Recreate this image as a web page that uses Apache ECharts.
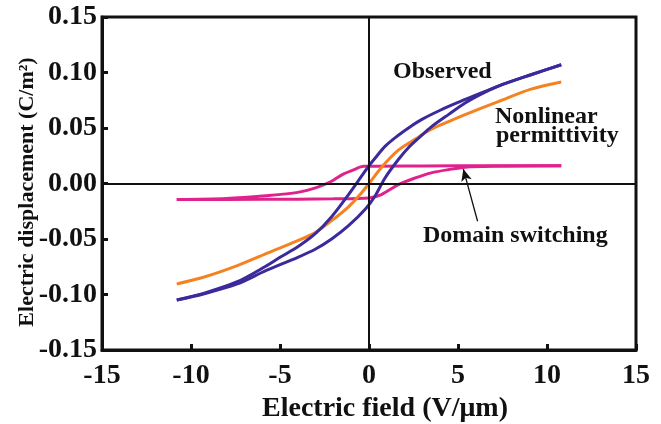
<!DOCTYPE html>
<html>
<head>
<meta charset="utf-8">
<script src="https://cdn.jsdelivr.net/npm/echarts@6/dist/echarts.min.js"></script>
<style>
html,body{margin:0;padding:0;background:#fff;}
#c{width:661px;height:424px;}
</style>
</head>
<body>
<div id="c"></div>
<script>
// Axis ticks
const xTicks = [-15, -10, -5, 0, 5, 10, 15];
const yTicks = [-0.15, -0.10, -0.05, 0.00, 0.05, 0.10, 0.15];

// Observed loop – lower (field increasing) branch
const observedLowX = [-10.8, -9.3, -7.4, -5.8, -4.0, -3.0, -2.1, -1.15, -0.2, 0.35, 0.9, 1.65, 2.2, 2.8, 3.5, 4.5, 5.4, 6.3, 7.3, 9.1, 10.8];
const observedLowY = [-0.105, -0.0995, -0.0905, -0.0785, -0.0665, -0.059, -0.050, -0.038, -0.023, -0.011, 0.005, 0.0216, 0.032, 0.041, 0.051, 0.0625, 0.0725, 0.0805, 0.088, 0.098, 0.107];
// Observed loop – upper (field decreasing) branch
const observedUpX = [-10.8, -9.3, -7.4, -5.8, -5.0, -4.0, -3.0, -2.1, -1.15, -0.4, 0.0, 0.35, 0.9, 1.65, 2.3, 3.0, 4.0, 5.0, 6.0, 7.3, 9.1, 10.8];
const observedUpY = [-0.105, -0.099, -0.0885, -0.0745, -0.0665, -0.057, -0.045, -0.030, -0.010, 0.007, 0.016, 0.023, 0.0335, 0.0435, 0.051, 0.058, 0.066, 0.073, 0.0795, 0.088, 0.098, 0.107];

// Nonlinear permittivity curve
const nonlinearX = [-10.8, -9.3, -7.4, -5.6, -4.0, -3.0, -2.1, -1.15, -0.5, 0.0, 0.7, 1.65, 2.6, 3.5, 4.5, 5.4, 7.3, 9.1, 10.8];
const nonlinearY = [-0.0905, -0.0845, -0.074, -0.062, -0.0515, -0.044, -0.0335, -0.021, -0.010, 0.0, 0.0145, 0.030, 0.040, 0.049, 0.056, 0.062, 0.074, 0.085, 0.0915];

// Domain switching loop – lower branch and upper branch
const domainLowX = [-10.8, -6.0, -2.0, 0.0, 0.7, 1.65, 2.6, 3.5, 4.5, 5.4, 7.0, 10.8];
const domainLowY = [-0.0145, -0.0143, -0.0138, -0.013, -0.010, -0.001, 0.005, 0.0096, 0.0126, 0.0147, 0.0155, 0.016];
const domainUpX = [-10.8, -8.0, -5.8, -4.0, -3.0, -2.1, -1.5, -0.9, -0.3, 3.0, 7.0, 10.8];
const domainUpY = [-0.0145, -0.0135, -0.011, -0.008, -0.004, 0.002, 0.008, 0.012, 0.0155, 0.0158, 0.016, 0.016];

const labels = ['Observed', 'Nonlinear', 'permittivity', 'Domain switching'];
const axisTitles = ['Electric field (V/\u03bcm)', 'Electric displacement (C/m\u00b2)'];
const arrowFrom = [6.1, -0.034];
const arrowTo = [5.3, 0.013];

function pairs(xs, ys){ return xs.map((x,i)=>[x, ys[i]]); }

const chart = echarts.init(document.getElementById('c'), null, {renderer:'canvas'});
const serif = '"Liberation Serif", "Times New Roman", serif';
const black = '#111';
const BLUE = '#3b2a9c', ORANGE = '#f58220', PINK = '#e0228c';

function curve(name, xs, ys, color, extra){
  return Object.assign({
    name:name, type:'line', data:pairs(xs, ys), smooth:0.3,
    showSymbol:false, lineStyle:{color:color, width:3}, itemStyle:{color:color}
  }, extra || {});
}

chart.setOption({
  animation:false,
  backgroundColor:'#fff',
  grid:{left:102, right:25, top:17, bottom:74, show:true, borderColor:black, borderWidth:3,
    backgroundColor:'transparent', outerBoundsMode:'none', containLabel:false},
  xAxis:{
    type:'value', min:xTicks[0], max:xTicks[xTicks.length-1], interval:5,
    axisLine:{onZero:false, lineStyle:{color:black, width:3}},
    axisTick:{inside:true, length:6, lineStyle:{color:black, width:3}},
    axisLabel:{fontFamily:serif, fontWeight:'bold', fontSize:28, color:black, margin:12,
      formatter:v=>String(v)},
    splitLine:{show:false}
  },
  yAxis:{
    type:'value', min:yTicks[0], max:yTicks[yTicks.length-1], interval:0.05,
    axisLine:{onZero:false, lineStyle:{color:black, width:3}},
    axisTick:{inside:true, length:6, lineStyle:{color:black, width:3}},
    axisLabel:{fontFamily:serif, fontWeight:'bold', fontSize:28, color:black, margin:5,
      formatter:v=>v.toFixed(2)},
    splitLine:{show:false}
  },
  series:[
    {
      name:'ref', type:'line', data:[], silent:true,
      markLine:{silent:true, symbol:['none','none'], label:{show:false},
        lineStyle:{color:black, width:2, type:'solid'},
        data:[{xAxis:0},{yAxis:0}]}
    },
    curve('Domain switching (up)', domainUpX, domainUpY, PINK),
    curve('Domain switching', domainLowX, domainLowY, PINK, {
      markLine:{silent:true, symbol:['none','arrow'], symbolSize:[8,12], label:{show:false},
        lineStyle:{color:black, width:1.3, type:'solid'},
        data:[[{coord:arrowFrom},{coord:arrowTo}]]}
    }),
    curve('Nonlinear permittivity', nonlinearX, nonlinearY, ORANGE),
    curve('Observed (up)', observedUpX, observedUpY, BLUE),
    curve('Observed', observedLowX, observedLowY, BLUE)
  ],
  graphic:[
    {type:'text', x:385, y:409,
      style:{text:axisTitles[0], font:'bold 28px '+serif, fill:black, align:'center', verticalAlign:'middle'}},
    {type:'text', x:27, y:192, rotation:Math.PI/2,
      style:{text:axisTitles[1], font:'bold 22px '+serif, fill:black, align:'center', verticalAlign:'middle'}},
    {type:'text', x:393, y:72, style:{text:labels[0], font:'bold 24px '+serif, fill:black, align:'left', verticalAlign:'middle'}},
    {type:'text', x:495, y:117, style:{text:labels[1], font:'bold 24px '+serif, fill:black, align:'left', verticalAlign:'middle'}},
    {type:'text', x:496, y:136, style:{text:labels[2], font:'bold 24px '+serif, fill:black, align:'left', verticalAlign:'middle'}},
    {type:'text', x:423, y:236, style:{text:labels[3], font:'bold 24px '+serif, fill:black, align:'left', verticalAlign:'middle'}}
  ]
});
</script>
</body>
</html>
